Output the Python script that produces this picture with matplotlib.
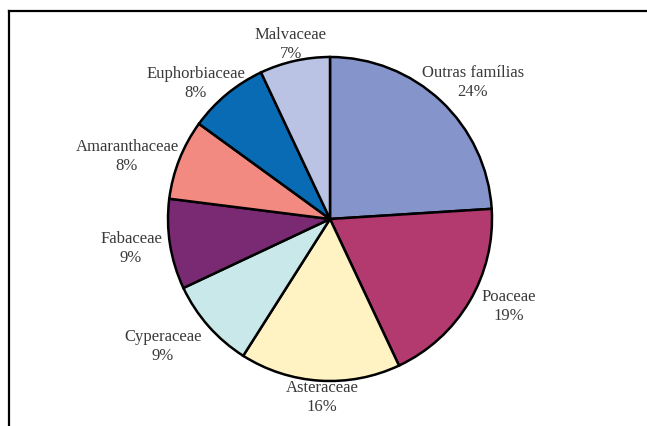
import matplotlib.pyplot as plt
import numpy as np

# data
familias = ["Outras famílias", "Poaceae", "Asteraceae", "Cyperaceae",
            "Fabaceae", "Amaranthaceae", "Euphorbiaceae", "Malvaceae"]
percentuais = [24, 19, 16, 9, 9, 8, 8, 7]
cores = ["#8595CB", "#B23A6E", "#FFF3C4", "#C9E8EA",
         "#7A2A72", "#F28A82", "#0A6BB5", "#BAC3E4"]
# label centre for each slice (in radii, relative to pie centre)
pos_rotulos = [(0.883, 0.846), (1.105, -0.537), (-0.049, -1.093), (-1.031, -0.778),
               (-1.228, -0.173), (-1.253, 0.395), (-0.827, 0.840), (-0.241, 1.083)]

plt.rcParams['font.family'] = ['Liberation Serif', 'DejaVu Serif']

fig = plt.figure(figsize=(6.47, 4.27), dpi=100)
W, H = 647, 427
cx, cy, r = 330, 220, 162
ax = fig.add_axes([(cx - r) / W, (H - cy - r) / H, 2 * r / W, 2 * r / H])

wedges, _ = ax.pie(percentuais, colors=cores, startangle=90, counterclock=False,
                   radius=1, wedgeprops=dict(edgecolor='black', linewidth=1.8))
ax.set_xlim(-1, 1)
ax.set_ylim(-1, 1)
ax.set_aspect('equal')

for nome, p, (x, y) in zip(familias, percentuais, pos_rotulos):
    ax.text(x, y, f"{nome}\n{p}%", ha='center', va='center', fontsize=12,
            color='#3a3a3a', linespacing=1.25, clip_on=False)

# outer frame (top and left edges)
fig.add_artist(plt.Line2D([9 / W, 1], [1 - 12 / H] * 2, color='black', lw=1.6,
                          transform=fig.transFigure))
fig.add_artist(plt.Line2D([9 / W] * 2, [0, 1 - 12 / H], color='black', lw=1.6,
                          transform=fig.transFigure))

fig.savefig("out.png", dpi=100)
